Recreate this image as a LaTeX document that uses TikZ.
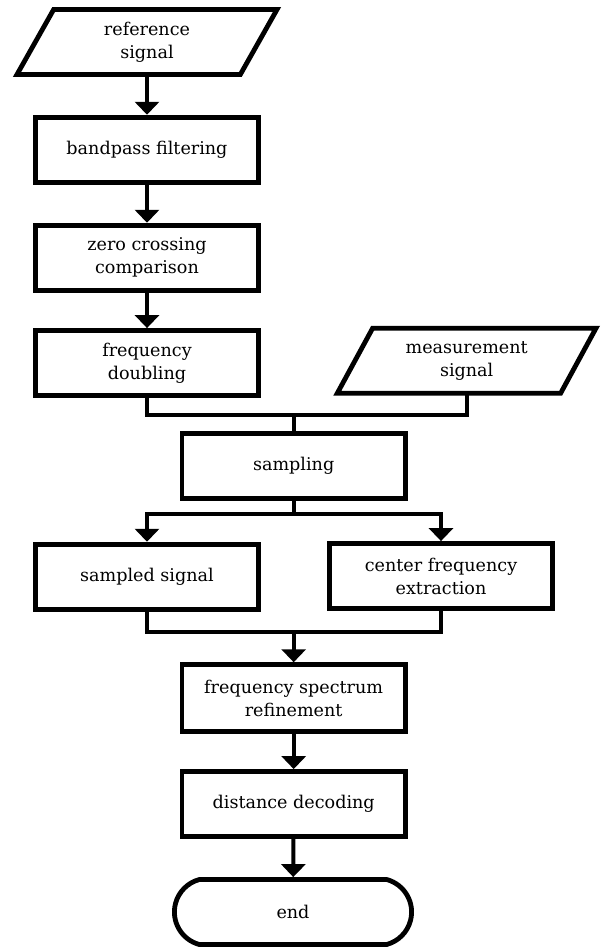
\documentclass[tikz,border=0pt]{standalone}
\usepackage{fontspec}
\setmainfont{DejaVu Serif}
\usetikzlibrary{arrows.meta, shapes.misc}
\tikzset{
  every picture/.style={line width=3.4pt},
  box/.style={draw, line width=4.1pt, align=center, minimum width=6.7cm, minimum height=1.95cm, font=\fontsize{15}{19.6}\selectfont},
  io/.style={box, draw=none, outer sep=0pt},
  term/.style={box, rounded rectangle, rounded rectangle arc length=150, minimum width=7.35cm},
  arrow/.style={-{Triangle[length=3.9mm, width=7.2mm]}, line join=miter},
  link/.style={line join=miter},
}
\newcommand{\ioframe}[2]{\draw[line width=4.1pt, line join=miter] ([xshift=#2]#1.north west) -- ([xshift=#2]#1.north east) -- ([xshift=-#2]#1.south east) -- ([xshift=-#2]#1.south west) -- cycle;}

\begin{document}
\begin{tikzpicture}
  \useasboundingbox (0,0) rectangle (18.21,-28.53);
  \node[io] (ref) at (4.41,-1.26) {reference\\signal};
  \ioframe{ref}{5.5mm}
  \node[box] (filt) at (4.41,-4.49) {bandpass filtering};
  \node[box] (zero) at (4.41,-7.73) {zero crossing\\comparison};
  \node[box] (dbl) at (4.41,-10.89) {frequency\\doubling};
  \node[io] (meas) at (14.0,-10.82) {measurement\\signal};
  \ioframe{meas}{5.3mm}
  \node[box] (samp) at (8.81,-13.98) {sampling};
  \node[box] (sig) at (4.41,-17.30) {sampled signal};
  \node[box] (cfe) at (13.23,-17.28) {center frequency\\extraction};
  \node[box, minimum height=2.0cm] (spec) at (8.81,-20.94) {frequency spectrum\\refinement};
  \node[box] (dec) at (8.81,-24.12) {distance decoding};
  \node[term] (stop) at (8.79,-27.36) {end};
  \coordinate (join1) at (8.81,-12.45);
  \coordinate (split) at (8.81,-15.42);
  \coordinate (join2) at (8.81,-18.96);
  \draw[arrow] (ref) -- (filt);
  \draw[arrow] (filt) -- (zero);
  \draw[arrow] (zero) -- (dbl);
  \draw[link] (dbl.south) |- (join1) -| (meas.south);
  \draw[link] (join1) -- (samp);
  \draw[link] (samp) -- (split);
  \draw[arrow] (split) -| (sig.north);
  \draw[arrow] (split) -| (cfe.north);
  \draw[link] (sig.south) |- (join2) -| (cfe.south);
  \draw[arrow] (join2) -- (spec);
  \draw[arrow] (spec) -- (dec);
  \draw[arrow] (dec) -- (stop);
\end{tikzpicture}
\end{document}
